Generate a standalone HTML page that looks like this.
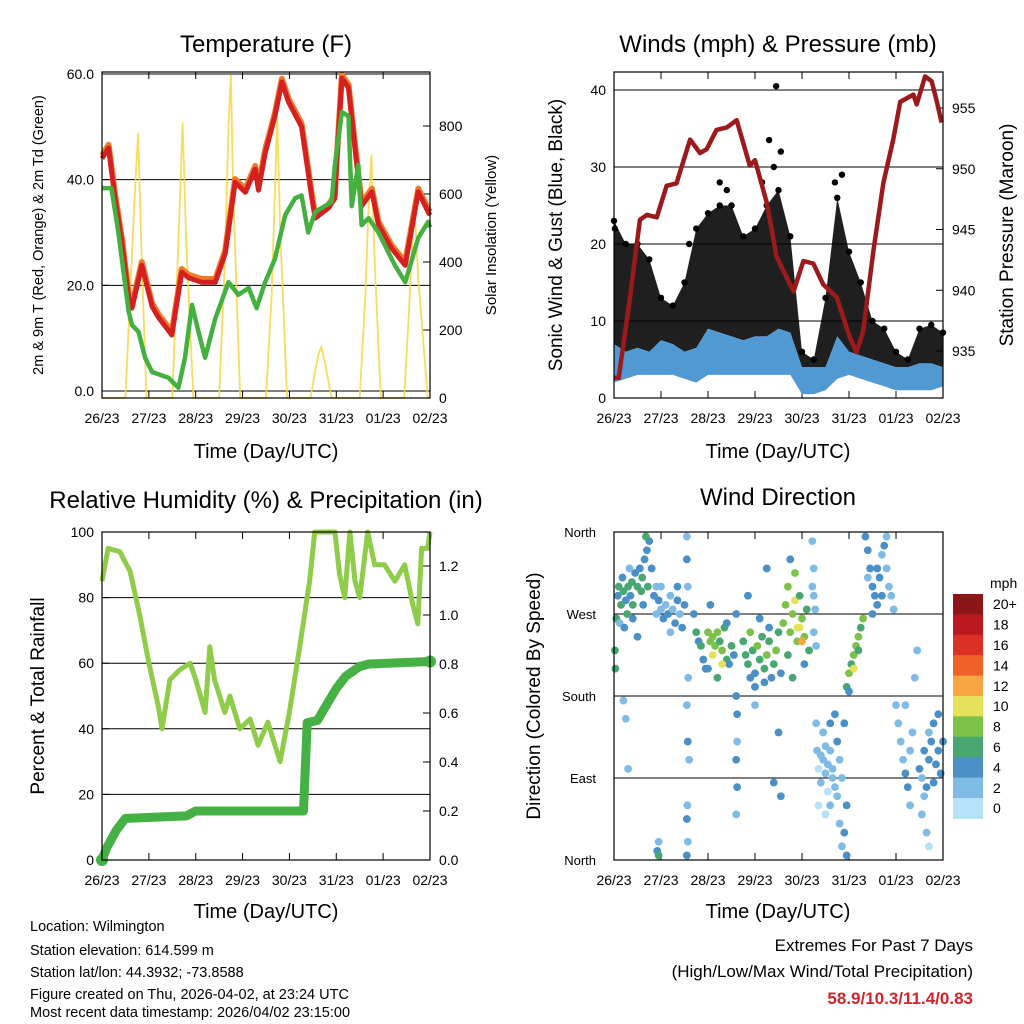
<!DOCTYPE html>
<html><head><meta charset="utf-8"><title>Station Meteogram</title>
<style>
html,body{margin:0;padding:0;background:#fff;}
svg{display:block;font-family:"Liberation Sans",Arial,sans-serif;}
</style></head>
<body>
<svg id="chart" xmlns="http://www.w3.org/2000/svg" width="1024" height="1024" viewBox="0 0 1024 1024">
<rect x="0" y="0" width="1024" height="1024" fill="#fff"/>
<text x="266" y="52" font-size="24" text-anchor="middle">Temperature (F)</text>
<text x="778" y="52" font-size="24" text-anchor="middle">Winds (mph) &amp; Pressure (mb)</text>
<text x="266" y="508" font-size="24" text-anchor="middle">Relative Humidity (%) &amp; Precipitation (in)</text>
<text x="778" y="505" font-size="24" text-anchor="middle">Wind Direction</text>
<text x="266" y="458" font-size="20" text-anchor="middle">Time (Day/UTC)</text>
<text x="778" y="458" font-size="20" text-anchor="middle">Time (Day/UTC)</text>
<text x="266" y="918" font-size="20" text-anchor="middle">Time (Day/UTC)</text>
<text x="778" y="918" font-size="20" text-anchor="middle">Time (Day/UTC)</text>
<text transform="translate(43,235) rotate(-90)" font-size="14.5" text-anchor="middle">2m &amp; 9m T (Red, Orange) &amp; 2m Td (Green)</text>
<text transform="translate(496,235) rotate(-90)" font-size="15" text-anchor="middle">Solar Insolation (Yellow)</text>
<text transform="translate(562,235) rotate(-90)" font-size="19" text-anchor="middle">Sonic Wind &amp; Gust (Blue, Black)</text>
<text transform="translate(1013,235) rotate(-90)" font-size="19" text-anchor="middle">Station Pressure (Maroon)</text>
<text transform="translate(44,696) rotate(-90)" font-size="19" text-anchor="middle">Percent &amp; Total Rainfall</text>
<text transform="translate(540,696) rotate(-90)" font-size="19" text-anchor="middle">Direction (Colored By Speed)</text>
<text x="990" y="588" font-size="14">mph</text>
<g font-size="14.5">
<text x="30" y="931">Location: Wilmington</text>
<text x="30" y="955">Station elevation: 614.599 m</text>
<text x="30" y="977">Station lat/lon: 44.3932; -73.8588</text>
<text x="30" y="999">Figure created on Thu, 2026-04-02, at 23:24 UTC</text>
<text x="30" y="1017">Most recent data timestamp: 2026/04/02 23:15:00</text>
</g>
<text x="973" y="951" font-size="17" text-anchor="end">Extremes For Past 7 Days</text>
<text x="973" y="977" font-size="17" text-anchor="end">(High/Low/Max Wind/Total Precipitation)</text>
<text x="973" y="1004" font-size="17" font-weight="bold" fill="#d0262b" text-anchor="end">58.9/10.3/11.4/0.83</text>
<g id="layer"></g>
</svg>
<script>
// ---------- data ----------
const dayLabels = ["26/23","27/23","28/23","29/23","30/23","31/23","01/23","02/23"];
const tempTicks = [0,20,40,60];
const solarTicks = [0,200,400,600,800];
const windTicks = [0,10,20,30,40];
const pressTicks = [935,940,945,950,955];
const rhTicks = [0,20,40,60,80,100];
const precipTicks = [0,0.2,0.4,0.6,0.8,1.0,1.2];
const dirTicks = [0,90,180,270,360];
const dirLabels = ["North","East","South","West","North"];

const tempT = [0,0.14,0.28,0.43,0.57,0.64,0.85,1.07,1.2,1.49,1.7,1.85,2.13,2.42,2.63,2.84,3.06,3.27,3.34,3.48,3.69,3.84,3.98,4.26,4.48,4.55,4.83,4.97,5.0,5.12,5.26,5.4,5.54,5.76,5.9,6.18,6.47,6.75,6.96,7.0];
const tempV = [44,46,36.5,28,17.6,15.7,23.8,16,14,10.6,22.5,21.4,20.6,20.6,26,39.5,37.6,42,38,45,52,58.5,54.7,50,36.5,32.7,34.6,36.5,42,59.2,57.4,46,35,37.7,31.4,27,23.8,37.7,33.9,33.3];
const dewT = [0,0.2,0.35,0.57,0.64,0.78,0.92,1.07,1.42,1.63,1.77,1.92,2.06,2.2,2.42,2.7,2.91,3.13,3.3,3.48,3.69,3.91,4.12,4.26,4.4,4.55,4.9,4.97,5.12,5.26,5.33,5.47,5.54,5.69,5.9,6.25,6.47,6.75,6.96,7.0];
const dewV = [38.4,38.4,30,15,12.5,11.2,6.3,3.6,2.5,0.6,6.2,16.3,11.2,6.3,13.8,20.6,18.2,19.5,15.7,20.6,25,33.3,36.5,37,30,33.9,35.8,42.8,52.8,52,35,42.8,31.4,32.7,30,23.8,20.6,29,32,31];
const solarT = [0,0.5,0.6,0.7,0.77,0.85,0.95,1.5,1.6,1.68,1.72,1.8,1.95,2.5,2.62,2.7,2.75,2.8,2.95,3.5,3.62,3.7,3.74,3.8,3.95,4.45,4.55,4.62,4.68,4.75,4.9,5.5,5.62,5.7,5.75,5.82,5.95,6.45,6.55,6.62,6.67,6.75,6.95,7.0];
const solarV = [0,0,300,600,780,400,0,0,350,650,810,450,0,0,400,800,950,600,0,0,300,650,830,500,0,0,80,130,150,110,0,0,300,600,715,400,0,0,250,450,560,350,0,0];

const windT = [0,0.25,0.5,0.75,1,1.25,1.5,1.75,2,2.25,2.5,2.75,3,3.25,3.5,3.75,4,4.25,4.5,4.75,5,5.25,5.5,5.75,6,6.25,6.5,6.75,7];
const windLo = [2,2.5,3,3,3,3,2.5,2,3,3,3,3,3,3,3,3,0.5,0.5,1,2.5,3,2.5,2,1.5,1,1,1,1,1.5];
const windHi = [7,6,6.5,6,7.5,7,6,6.5,9,8.5,8,7.5,8,8,9,8.5,4,4,4,8,6,5.5,5,4.5,4,4,4.5,4.5,4];
const gustHi = [23,20,20,18,13,12,15,22,24,25,25,21,22,25,27,21,6,5,13,26,19,15,10,9,6,5,9,9.5,8.5];
const gustOutT = [3.3,3.45,3.4,4.85,4.7,3.55,2.25,2.4,3.15,0.02,1.6];
const gustOutV = [33.5,40.5,30,29,28,32,28,27,28,22,20];
const pressT = [0,0.1,0.34,0.55,0.7,0.91,1.12,1.33,1.62,1.83,1.97,2.18,2.4,2.61,2.89,3.0,3.25,3.46,3.82,4.03,4.24,4.45,4.74,5.02,5.16,5.3,5.52,5.73,5.94,6.09,6.37,6.44,6.62,6.76,6.87,6.97];
const pressV = [932.8,932.8,939.4,945.8,946.2,946,948.6,948.8,952.4,951.3,951.6,953.2,953.4,954,950.25,950.7,947.2,942.75,939.9,942.4,942.2,940.5,939.4,936.1,934.9,936.6,943.25,948.8,952.4,955.5,956.1,955.3,957.6,957.2,955.5,953.8];

const rhT = [0,0.13,0.38,0.6,0.8,1.0,1.2,1.28,1.45,1.66,1.88,2.0,2.2,2.3,2.4,2.62,2.73,2.94,3.16,3.33,3.54,3.69,3.8,4.0,4.22,4.43,4.54,4.97,5.07,5.18,5.29,5.4,5.5,5.67,5.82,6.03,6.25,6.46,6.63,6.74,6.82,6.95,7.0];
const rhV = [85,95,94,88,75,60,47,40,55,58,60,55,45,65,55,45,50,40,43,35,42,35,30,45,65,85,100,100,87,80,100,85,80,100,90,90,85,90,78,72,95,95,100];
const precipT = [0,0.1,0.3,0.5,1.8,2.0,4.3,4.38,4.6,4.75,5.0,5.2,5.5,5.7,7.0];
const precipV = [0,0.05,0.12,0.17,0.18,0.2,0.2,0.56,0.57,0.62,0.7,0.75,0.79,0.8,0.81];

const speedLabels = ["0","2","4","6","8","10","12","14","16","18","20+"];
const speedColors = ["#b5e2f6","#7fbbe4","#4a8fc6","#48a770","#7cc24a","#e6e15a","#f6a643","#f0622a","#dc3027","#b9191f","#8c1517"];
const dirPts = [
[0.05,265,6],[0.08,290,4],[0.1,300,6],[0.15,280,6],[0.18,310,4],[0.2,295,6],[0.25,285,4],[0.28,270,6],[0.3,300,6],[0.35,290,4],[0.38,305,6],[0.4,280,6],[0.45,315,4],[0.5,300,6],[0.55,320,4],[0.58,295,6],[0.6,310,6],[0.65,330,4],[0.7,340,4],[0.72,300,6],[0.75,350,4],[0.8,320,4],[0.85,290,4],[0.02,230,6],[0.03,210,6],[0.12,260,2],[0.22,255,4],[0.4,265,4],[0.5,245,4],[0.33,320,2],[0.62,280,4],[0.68,355,6],[0.9,300,2],
[0.9,270,2],[0.95,285,4],[1.0,275,2],[1.05,265,4],[1.1,280,2],[1.15,270,4],[1.2,290,2],[1.25,275,2],[1.3,260,4],[1.35,285,4],[1.4,270,2],[1.45,255,4],[1.5,280,4],[1.0,300,2],[1.2,250,2],[1.35,300,4],
[0.92,10,4],[0.95,5,6],[0.95,20,2],[1.55,355,2],[1.55,330,4],[1.57,300,2],[1.58,200,2],[1.55,170,2],[1.57,130,4],[1.6,110,2],[1.56,60,2],[1.55,45,4],[1.57,20,2],[1.55,5,4],[0.25,155,2],[0.2,175,2],[0.3,100,2],
[1.7,270,4],[1.75,250,6],[1.8,240,4],[1.85,235,6],[1.9,220,4],[1.95,210,4],[2.0,250,8],[2.05,240,8],[2.1,245,8],[2.15,235,8],[2.2,250,8],[2.25,240,6],[2.3,230,8],[2.35,255,6],[2.4,220,6],[2.45,215,4],[2.5,235,6],[2.55,225,4],[2.1,225,10],[2.3,215,10],[2.0,210,4],[2.2,200,6],[2.4,260,4],[2.6,270,4],[2.05,280,4],
[2.6,180,4],[2.62,160,4],[2.62,130,2],[2.6,110,4],[2.62,80,4],[2.6,50,2],
[2.75,240,6],[2.8,225,6],[2.85,215,6],[2.9,250,8],[2.95,230,6],[3.0,205,4],[3.05,235,8],[3.1,220,6],[3.15,245,6],[3.2,210,6],[3.25,225,8],[3.3,240,6],[3.35,200,4],[3.4,215,6],[3.45,230,8],[3.5,250,6],[3.55,205,4],[3.0,190,4],[3.2,195,4],[2.9,200,4],[3.1,265,4],[3.3,255,4],[2.85,290,4],[3.25,320,4],[3.0,170,2],[3.5,140,4],[3.4,85,4],[3.55,70,4],
[3.6,260,8],[3.65,280,8],[3.7,300,8],[3.75,250,8],[3.8,270,8],[3.85,285,10],[3.9,240,8],[3.95,255,10],[4.0,265,8],[4.05,245,8],[4.1,275,6],[4.15,230,6],[3.7,225,6],[3.85,315,8],[3.95,290,6],[4.05,215,4],[3.8,200,6],[3.75,330,4],[3.9,255,10],[4.0,240,12],
[4.22,350,2],[4.25,320,2],[4.22,300,2],[4.25,290,2],[4.28,275,2],[4.25,250,2],[4.3,235,2],
[4.3,150,2],[4.32,120,2],[4.35,100,0],[4.4,85,2],[4.45,110,2],[4.5,95,2],[4.55,75,0],[4.6,120,2],[4.65,100,2],[4.7,80,2],[4.75,130,4],[4.8,110,2],[4.85,90,2],[4.9,150,4],[4.95,60,4],[4.35,60,0],[4.45,140,2],[4.5,50,0],[4.6,150,4],[4.7,160,4],[4.75,70,2],[4.4,115,2],[4.55,105,2],[4.65,90,2],[4.5,125,2],[4.6,60,2],[4.8,40,2],[4.85,15,2],[4.9,30,4],[4.95,5,4],
[4.95,190,6],[5.0,205,8],[5.05,215,6],[5.1,225,8],[5.15,235,8],[5.2,245,8],[5.25,255,6],[5.3,265,8],[5.1,210,10],[5.2,230,6],[5.0,185,4],
[5.35,355,4],[5.4,340,4],[5.45,320,4],[5.5,300,4],[5.55,290,4],[5.6,280,4],[5.65,310,4],[5.7,335,2],[5.75,345,4],[5.8,320,2],[5.85,300,2],[5.9,290,2],[5.95,275,2],[5.5,270,4],[5.4,310,2],[5.7,290,4],[5.8,355,2],[5.6,320,4],
[6.0,170,2],[6.05,150,2],[6.1,130,2],[6.15,110,2],[6.2,95,4],[6.25,80,4],[6.3,120,2],[6.35,140,2],[6.4,200,2],[6.45,230,2],[6.3,60,2],[6.2,170,2],
[6.5,100,4],[6.55,90,2],[6.6,120,4],[6.65,80,4],[6.7,110,4],[6.75,130,4],[6.8,150,4],[6.85,105,4],[6.9,120,4],[6.95,95,4],[7.0,130,4],[6.6,70,2],[6.7,140,2],[6.8,85,4],[6.9,160,4],[6.55,50,2],[6.65,30,2],[6.7,15,0]
];

// ---------- helpers ----------
const NS = "http://www.w3.org/2000/svg";
const layer = document.getElementById("layer");
function mk(tag, attrs, parent){
  const e = document.createElementNS(NS, tag);
  for (const k in attrs) e.setAttribute(k, attrs[k]);
  (parent || layer).appendChild(e);
  return e;
}
function scale(d0,d1,r0,r1){ return v => r0 + (v-d0)*(r1-r0)/(d1-d0); }
function pathFrom(xs, ys, fx, fy){
  return xs.map((t,i)=>(i?"L":"M")+fx(t).toFixed(1)+","+fy(ys[i]).toFixed(1)).join("");
}

const P = {
  temp:{x0:102,x1:430,y0:72,y1:398},
  wind:{x0:614,x1:943,y0:72,y1:398},
  rh:{x0:102,x1:430,y0:532,y1:860},
  dir:{x0:614,x1:943,y0:532,y1:860}
};
function xScale(p){ return scale(0,7,p.x0,p.x1); }

function frame(p, name){
  const g = mk("g", {});
  
  
  const fx = xScale(p);
  dayLabels.forEach((lab,i)=>{
    const x = fx(i);
    mk("line",{x1:x,y1:p.y1,x2:x,y2:p.y1-7,stroke:"#000","stroke-width":1},g);
    mk("line",{x1:x,y1:p.y0,x2:x,y2:p.y0+7,stroke:"#000","stroke-width":1},g);
    const t = mk("text",{x:x,y:p.y1+25,"font-size":14,"text-anchor":"middle"},g);
    
    
    t.textContent = lab;
  });
  return g;
}
function box(p, g){
  mk("rect",{x:p.x0,y:p.y0,width:p.x1-p.x0,height:p.y1-p.y0,fill:"none",stroke:"#000","stroke-width":1.2},g);
}
function hgrid(p, fy, vals, g){
  vals.forEach(v=>{ const y=fy(v); mk("line",{x1:p.x0,y1:y,x2:p.x1,y2:y,stroke:"#000","stroke-width":1},g); });
}
function leftLabels(p, fy, vals, fmt, g, name){
  vals.forEach(v=>{
    const y=fy(v);
    mk("line",{x1:p.x0,y1:y,x2:p.x0+7,y2:y,stroke:"#000"},g);
    const t = mk("text",{x:p.x0-8,y:y+5,"font-size":14,"text-anchor":"end"},g);
    
    
    t.textContent = fmt(v);
  });
}
function rightLabels(p, fy, vals, fmt, g, name){
  vals.forEach(v=>{
    const y=fy(v);
    mk("line",{x1:p.x1,y1:y,x2:p.x1-7,y2:y,stroke:"#000"},g);
    const t = mk("text",{x:p.x1+9,y:y+5,"font-size":14,"text-anchor":"start"},g);
    
    
    t.textContent = fmt(v);
  });
}

// ---------- Panel 1: temperature ----------
(function(){
  const p = P.temp, fx = xScale(p);
  const fy = scale(0,60,391,74), fs = scale(0,800,398,126);
  const g = frame(p,'temperature-panel');
  hgrid(p, fy, tempTicks, g);
  leftLabels(p, fy, tempTicks, v=>v.toFixed(1), g, 'temp-tick-label');
  rightLabels(p, fs, solarTicks, v=>String(v), g, 'solar-tick-label');
  const s = mk("path",{d:pathFrom(solarT,solarV,fx,fs),fill:"none",stroke:"#f7d640","stroke-width":1.8,opacity:0.85},g);
  
  
  const o = mk("path",{d:pathFrom(tempT,tempV.map(v=>v+0.6),fx,fy),fill:"none",stroke:"#f07a2a","stroke-width":6,"stroke-linejoin":"round"},g);
  
  
  const r = mk("path",{d:pathFrom(tempT,tempV,fx,fy),fill:"none",stroke:"#d42020","stroke-width":5,"stroke-linejoin":"round"},g);
  
  
  const d = mk("path",{d:pathFrom(dewT,dewV,fx,fy),fill:"none",stroke:"#44b040","stroke-width":4.5,"stroke-linejoin":"round"},g);
  
  
  box(p,g);
})();

// ---------- Panel 2: winds & pressure ----------
(function(){
  const p = P.wind, fx = xScale(p);
  const fy = scale(0,40,398,90), fp = scale(935,955,351,108);
  const g = frame(p,'winds-panel');
  hgrid(p, fy, windTicks.slice(1), g);
  mk("line",{x1:p.x0,y1:p.y0,x2:p.x1,y2:p.y0,stroke:"#000"},g);
  leftLabels(p, fy, windTicks, v=>String(v), g, 'wind-tick-label');
  rightLabels(p, fp, pressTicks, v=>String(v), g, 'pressure-tick-label');
  let dd = windT.map((t,i)=>(i?"L":"M")+fx(t).toFixed(1)+","+fy(gustHi[i]).toFixed(1)).join("");
  for (let i=windT.length-1;i>=0;i--) dd += "L"+fx(windT[i]).toFixed(1)+","+fy(windHi[i]).toFixed(1);
  const gb = mk("path",{d:dd+"Z",fill:"#000",opacity:0.88},g);
  
  
  windT.forEach((t,i)=>{
    const c = mk("circle",{cx:fx(t),cy:fy(gustHi[i]),r:3.2,fill:"#000"},g);
    
    
  });
  gustOutT.forEach((t,i)=>{
    const c = mk("circle",{cx:fx(t),cy:fy(gustOutV[i]),r:3.2,fill:"#000"},g);
    
    
  });
  let wd = windT.map((t,i)=>(i?"L":"M")+fx(t).toFixed(1)+","+fy(windHi[i]).toFixed(1)).join("");
  for (let i=windT.length-1;i>=0;i--) wd += "L"+fx(windT[i]).toFixed(1)+","+fy(windLo[i]).toFixed(1);
  const wb = mk("path",{d:wd+"Z",fill:"#5199d2"},g);
  
  
  const pl = mk("path",{d:pathFrom(pressT,pressV,fx,fp),fill:"none",stroke:"#9c1a1c","stroke-width":4.5,"stroke-linejoin":"round"},g);
  
  
  box(p,g);
})();

// ---------- Panel 3: RH & precip ----------
(function(){
  const p = P.rh, fx = xScale(p);
  const fy = scale(0,100,860,532), fr = scale(0,1.2,860,566);
  const g = frame(p,'humidity-panel');
  hgrid(p, fy, rhTicks.slice(1), g);
  leftLabels(p, fy, rhTicks, v=>String(v), g, 'rh-tick-label');
  rightLabels(p, fr, precipTicks, v=>v.toFixed(1), g, 'precip-tick-label');
  const rl = mk("path",{d:pathFrom(rhT,rhV,fx,fy),fill:"none",stroke:"#8fcc4a","stroke-width":5,"stroke-linejoin":"round"},g);
  
  
  const pl = mk("path",{d:pathFrom(precipT,precipV,fx,fr),fill:"none",stroke:"#45b044","stroke-width":9,"stroke-linejoin":"round","stroke-linecap":"round"},g);
  
  
  const c1 = mk("circle",{cx:fx(precipT[0]),cy:fr(precipV[0]),r:6,fill:"#45b044"},g);
  
  
  const c2 = mk("circle",{cx:fx(precipT[precipT.length-1]),cy:fr(precipV[precipV.length-1]),r:6,fill:"#45b044"},g);
  
  
  mk("line",{x1:p.x0,y1:p.y1,x2:p.x1,y2:p.y1,stroke:"#000"},g);
  box(p,g);
})();

// ---------- Panel 4: wind direction ----------
(function(){
  const p = P.dir, fx = xScale(p);
  const fy = scale(0,360,860,532);
  const g = frame(p,'wind-direction-panel');
  hgrid(p, fy, dirTicks, g);
  dirTicks.forEach((v,i)=>{
    const t = mk("text",{x:p.x0-18,y:fy(v)+5,"font-size":13,"text-anchor":"end"},g);
    
    
    t.textContent = dirLabels[i];
  });
  dirPts.forEach(pt=>{
    const ci = Math.min(10, Math.floor(pt[2]/2));
    const c = mk("circle",{cx:fx(pt[0]),cy:fy(pt[1]),r:3.9,fill:speedColors[ci]},g);
    
    
  });
  box(p,g);
  const cb = mk("g",{});
  
  
  const top = 594, h = 20.4;
  for (let k=10;k>=0;k--){
    const y = top + (10-k)*h;
    const r = mk("rect",{x:953,y:y,width:30,height:h+0.5,fill:speedColors[k]},cb);
    
    
    const t = mk("text",{x:993,y:y+h/2+5,"font-size":14},cb);
    
    
    t.textContent = speedLabels[k];
  }
})();
</script>
</body></html>
